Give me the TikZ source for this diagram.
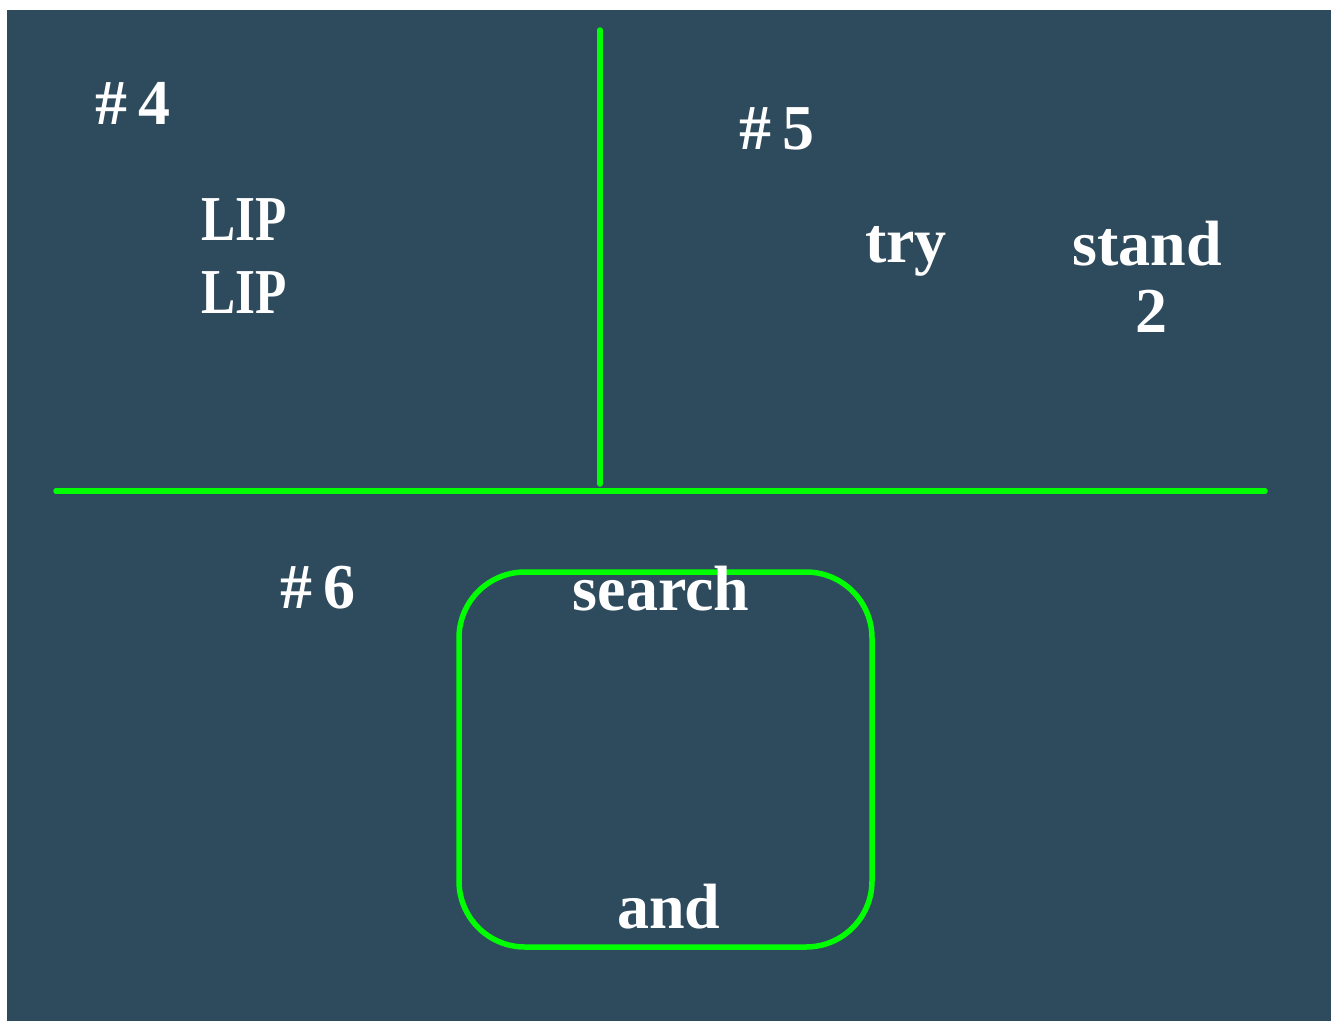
\documentclass[tikz,border=0pt]{standalone}
\usepackage{fontspec}
\setmainfont{Liberation Serif}
\definecolor{slate}{HTML}{2E4B5D}
\definecolor{lime}{HTML}{00FF00}
\begin{document}
\begin{tikzpicture}[x=1pt,y=-1pt,
  lbl/.style={text=white,font=\fontsize{64}{64}\selectfont\bfseries,inner sep=0pt,anchor=base},
  narrow/.style={xscale=0.8,transform shape},
  gline/.style={draw=lime,line width=5.5pt,line cap=round}]
\useasboundingbox (0,0) rectangle (1331,1021);
\fill[slate] (7,10) rectangle (1331,1021);
\coordinate (vt) at (600,30);
\coordinate (vb) at (600,484);
\coordinate (hl) at (56,491);
\coordinate (hr) at (1265,491);
\draw[gline] (vt) -- (vb);
\draw[gline] (hl) -- (hr);
\draw[gline,rounded corners=66pt] (459,572) rectangle (872,947);
\node[lbl] (n4) at (133,124) {\#\,4};
\node[lbl,narrow] (lip1) at (244,240) {LIP};
\node[lbl,narrow] (lip2) at (244,313) {LIP};
\node[lbl] (n5) at (777,149) {\#\,5};
\node[lbl] (try) at (906,262) {try};
\node[lbl] (stand) at (1147,265) {stand};
\node[lbl] (two) at (1151,332) {2};
\node[lbl] (n6) at (318,608) {\#\,6};
\node[lbl] (search) at (661,610) {search};
\node[lbl] (and) at (669,928) {and};
\end{tikzpicture}
\end{document}
